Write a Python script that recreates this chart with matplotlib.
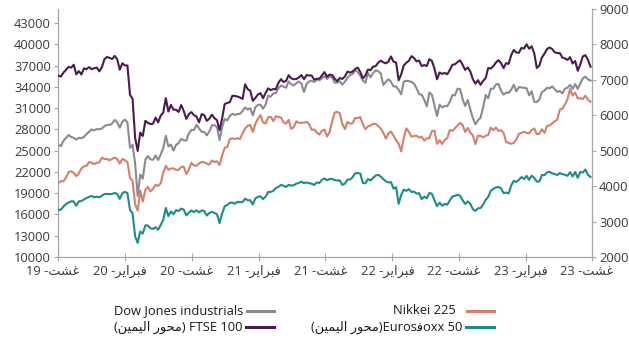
import matplotlib
matplotlib.use("Agg")
import matplotlib.pyplot as plt
import matplotlib.transforms as mtransforms
from matplotlib.lines import Line2D
import pandas as pd

plt.rcParams['font.family'] = ['Open Sans', 'DejaVu Sans']

# ---------------- data (weekly) ----------------
dates = pd.date_range('2019-08-16', '2023-08-11', freq='W-FRI')

dow = [
    25886, 25629, 26403, 26797, 27220, 26935, 26820, 26573, 26817, 26770, 26958, 27347, 27681, 28005, 27876, 28051, 28015, 28135, 28455, 28645,
    28635, 28824, 29348, 28990, 28256, 29102, 29398, 28992, 25409, 25865, 23186, 18600, 21637, 21053, 23719, 24242, 23775, 23724, 24331, 23685,
    24465, 25383, 27111, 25605, 25871, 25016, 25827, 26075, 26672, 26470, 26428, 27433, 27931, 27930, 28654, 28133, 27666, 27657, 27174, 27683,
    28587, 28606, 28336, 26502, 28323, 29480, 29263, 29910, 30218, 30046, 30179, 30200,
    30606, 31098, 30814, 30997, 29983, 31148, 31458, 31494, 30932, 31496, 32779, 32628, 33072, 33153, 33801, 34200, 34043, 33875, 34778, 34382,
    34208, 34529, 34756, 34480, 33290, 34434, 34786, 34870, 34688, 35062, 34935, 35209, 35515, 35120, 35455, 35369, 34608, 34585, 34798, 34326,
    34746, 35295, 35677, 35820, 36328, 36100, 35602, 34899, 34580, 35971, 35365, 35951, 36338,
    36231, 35912, 34265, 34725, 35089, 34738, 34079, 34058, 33615, 32944, 34755, 34861, 34818, 34721, 34451, 33811, 32977, 32899, 32197, 31262,
    33213, 32900, 31393, 29888, 31500, 31097, 31338, 31289, 31899, 32845, 32803, 33761, 33707, 32283, 31318, 32151, 30822, 29590, 28725, 29297,
    29635, 31083, 32862, 32403, 33748, 33746, 34347, 34430, 33477, 32920, 33204, 33147,
    33631, 34303, 33375, 33978, 33926, 33869, 33827, 32817, 33391, 31910, 31862, 32238, 33274, 33485, 33886, 33809, 34098, 33674, 33300, 33427,
    33093, 33762, 33877, 34299, 33727, 34408, 33734, 34509, 35228, 35459, 35066, 34900,
]

nikkei = [
    20419, 20711, 20704, 21199, 21988, 22079, 21879, 21410, 21799, 22492, 22800, 22851, 23392, 23303, 23113, 23294, 23354, 24023, 23816, 23837,
    23657, 23850, 24041, 23827, 23205, 23827, 23688, 23387, 21143, 20750, 17431, 16553, 19389, 17820, 19498, 19897, 19262, 19619, 20179, 20037,
    20388, 21878, 22864, 22305, 22479, 22512, 22306, 22290, 22696, 22751, 21710, 22329, 23289, 22920, 22882, 23205, 23406, 23360, 23204, 23029,
    23620, 23410, 23516, 22977, 24325, 25385, 25527, 26644, 26751, 26652, 26763, 26656,
    27444, 28139, 28519, 28631, 27663, 28779, 29520, 30018, 28966, 28864, 29717, 29792, 29176, 29854, 29768, 29683, 29020, 28813, 29357, 28084,
    28317, 29149, 28941, 28948, 28964, 29066, 28783, 27940, 28003, 27548, 27283, 27820, 27977, 27013, 27641, 29128, 30382, 30500, 30249, 28771,
    28049, 29069, 28805, 28893, 29612, 29610, 29746, 28752, 28030, 28437, 28546, 28782, 28792,
    28479, 28124, 27522, 26717, 27440, 27696, 27122, 26476, 25985, 24900, 26827, 28150, 27666, 26986, 27093, 27105, 26848, 27003, 26427, 26739,
    26782, 27762, 27824, 25963, 26491, 25936, 26517, 26788, 27915, 27802, 28176, 28547, 28930, 28641, 27650, 28214, 27568, 27153, 25937, 27116,
    27090, 26891, 27105, 27199, 28264, 27900, 28283, 27777, 27901, 27527, 26235, 26095,
    25974, 26120, 26554, 27383, 27509, 27671, 27513, 27454, 27927, 28144, 27334, 27385, 28041, 27518, 28493, 28564, 28856, 29158, 29388, 30808,
    30916, 31524, 32265, 33706, 32781, 33189, 32388, 32391, 32304, 32759, 32193, 31900,
]

ftse = [
    7117, 7095, 7207, 7282, 7367, 7345, 7426, 7155, 7247, 7151, 7324, 7302, 7359, 7303, 7327, 7347, 7240, 7353, 7582, 7645,
    7622, 7588, 7675, 7586, 7286, 7467, 7409, 7404, 6581, 6463, 5366, 4994, 5510, 5416, 5843, 5787, 5752, 5763, 5936, 5800,
    5993, 6077, 6484, 6105, 6293, 6159, 6157, 6095, 6290, 6123, 5898, 6032, 6090, 6001, 5964, 5799, 6032, 6007, 5843, 5902,
    6017, 5920, 5860, 5577, 5910, 6316, 6351, 6367, 6550, 6547, 6529, 6502,
    6461, 6873, 6735, 6695, 6407, 6489, 6589, 6624, 6483, 6631, 6761, 6709, 6741, 6737, 6916, 7020, 6938, 6970, 7130, 7044,
    7018, 7023, 7069, 7134, 7018, 7136, 7123, 7122, 7008, 7028, 7032, 7123, 7219, 7088, 7148, 7138, 7029, 6964, 7051, 7027,
    7096, 7234, 7205, 7238, 7304, 7348, 7224, 7044, 7122, 7292, 7270, 7373, 7385,
    7485, 7543, 7494, 7466, 7516, 7661, 7513, 7489, 6987, 7156, 7405, 7483, 7538, 7670, 7616, 7522, 7545, 7388, 7418, 7390,
    7585, 7533, 7318, 7016, 7209, 7169, 7196, 7159, 7277, 7423, 7440, 7501, 7551, 7427, 7281, 7351, 7237, 7019, 6894, 6991,
    6858, 6970, 7048, 7335, 7318, 7386, 7487, 7557, 7477, 7332, 7473, 7452,
    7700, 7844, 7771, 7765, 7902, 7882, 8004, 7879, 7947, 7748, 7335, 7405, 7632, 7742, 7871, 7914, 7870, 7778, 7755, 7756,
    7627, 7607, 7562, 7643, 7462, 7532, 7257, 7434, 7664, 7694, 7564, 7370,
]

eurostoxx = [
    3334, 3334, 3427, 3495, 3538, 3571, 3569, 3447, 3571, 3579, 3624, 3660, 3699, 3722, 3685, 3704, 3684, 3731, 3776, 3782,
    3774, 3781, 3808, 3779, 3641, 3798, 3840, 3800, 3329, 3232, 2586, 2400, 2716, 2663, 2893, 2888, 2809, 2794, 2839, 2770,
    2905, 3050, 3384, 3153, 3287, 3206, 3320, 3300, 3366, 3338, 3175, 3254, 3315, 3267, 3316, 3260, 3315, 3299, 3169, 3244,
    3275, 3245, 3204, 2958, 3225, 3432, 3467, 3527, 3537, 3503, 3558, 3543,
    3553, 3645, 3600, 3602, 3481, 3655, 3697, 3713, 3636, 3706, 3836, 3837, 3867, 3946, 3979, 4032, 4014, 3975, 4035, 4017,
    4026, 4071, 4089, 4127, 4083, 4104, 4084, 4068, 4035, 4104, 4089, 4176, 4219, 4166, 4204, 4201, 4170, 4159, 4160, 4036,
    4073, 4183, 4189, 4251, 4363, 4370, 4356, 4089, 4080, 4200, 4161, 4233, 4298,
    4320, 4272, 4199, 4137, 4104, 4115, 3929, 3971, 3500, 3753, 3903, 3867, 3918, 3835, 3848, 3788, 3803, 3629, 3703, 3658,
    3808, 3783, 3599, 3438, 3533, 3448, 3500, 3477, 3596, 3708, 3725, 3757, 3730, 3603, 3498, 3570, 3500, 3349, 3300, 3375,
    3381, 3476, 3614, 3693, 3867, 3924, 3962, 3977, 3942, 3804, 3818, 3794,
    4018, 4151, 4119, 4178, 4257, 4199, 4290, 4179, 4294, 4229, 4130, 4131, 4315, 4309, 4391, 4408, 4359, 4340, 4316, 4371,
    4336, 4323, 4290, 4395, 4271, 4400, 4235, 4400, 4383, 4470, 4315, 4260,
]

# Arabic text in visual (left-to-right) order with presentation forms
AUG = "\uFE96\uFEB8\uFECF"                                   # غشت
FEB = "\uFEAE\uFEF3\uFE8D\uFEAE\uFE92\uFED3"                 # فبراير
RIGHT_AX = "(\uFEE6\uFEF4\uFEE4\uFEF4\uFEDF\uFE8D \uFEAD\uFEEE\uFEA4\uFEE3)"   # (محور اليمين)

tick_dates = pd.to_datetime(['2019-08-15', '2020-02-15', '2020-08-15', '2021-02-15', '2021-08-15',
                             '2022-02-15', '2022-08-15', '2023-02-15', '2023-08-15'])
tick_labels = [f"19 -{AUG}", f"20 -{FEB}", f"20 -{AUG}", f"21 -{FEB}", f"21 -{AUG}",
               f"22 -{FEB}", f"22 -{AUG}", f"23 -{FEB}", f"23 -{AUG}"]

left_ticks = list(range(10000, 43001, 3000))
right_ticks = list(range(2000, 9001, 1000))

names = ["Dow Jones industrials", f"{RIGHT_AX} FTSE 100", "Nikkei 225", f"{RIGHT_AX}Euros\uFED3oxx 50"]

# ---------------- styling ----------------
GRAY = "#8b8a93"
PURPLE = "#4b1a4f"
ORANGE = "#d4806b"
TEAL = "#1b8c8a"
SPINE = "#a6a6ad"
TXT = "#3a3a3a"
FS = 9.3

W, H = 629, 339
fig = plt.figure(figsize=(W / 100, H / 100), dpi=100)
ax = fig.add_axes([58 / W, 1 - 257 / H, (592 - 58) / W, (257 - 9) / H])
ax2 = ax.twinx()

ax.plot(dates, dow, color=GRAY, lw=1.5, solid_joinstyle='round')
ax.plot(dates, nikkei, color=ORANGE, lw=1.5, solid_joinstyle='round')
ax2.plot(dates, ftse, color=PURPLE, lw=1.5, solid_joinstyle='round')
ax2.plot(dates, eurostoxx, color=TEAL, lw=1.5, solid_joinstyle='round')

ax.set_xlim(tick_dates[0], tick_dates[-1])
ax.set_ylim(10000, 45000)
ax2.set_ylim(2000, 9000)

ax.set_yticks(left_ticks)
ax.set_yticklabels([str(v) for v in left_ticks])
ax2.set_yticks(right_ticks)
ax2.set_yticklabels([str(v) for v in right_ticks])
ax.set_xticks(tick_dates)
ax.set_xticklabels(tick_labels)

for a in (ax, ax2):
    a.spines['top'].set_visible(False)
    for s in a.spines.values():
        s.set_color(SPINE)
        s.set_linewidth(0.9)
ax.spines['right'].set_visible(False)
ax2.spines['left'].set_visible(False)
ax2.spines['bottom'].set_visible(False)

ax.tick_params(axis='y', direction='out', length=3, width=0.8, color=SPINE, labelsize=FS, labelcolor=TXT, pad=2)
ax2.tick_params(axis='y', direction='out', length=3, width=0.8, color=SPINE, labelsize=FS, labelcolor=TXT, pad=2)
ax.tick_params(axis='x', direction='inout', length=6, width=0.8, color=SPINE, labelsize=FS, labelcolor=TXT, pad=3)

offset = mtransforms.ScaledTranslation(-5 / 100, 0, fig.dpi_scale_trans)
for lab in ax.get_xticklabels():
    lab.set_transform(lab.get_transform() + offset)

# ---------------- legend (text left of key, right-to-left layout) ----------------
def key(x_text_end, x0, x1, y, color, label):
    yf = 1 - y / H
    fig.text(x_text_end / W, yf, label, ha='right', va='center', fontsize=FS, color="#1a1a1a")
    fig.add_artist(Line2D([x0 / W, x1 / W], [yf, yf], transform=fig.transFigure, color=color, lw=2.2))

key(243, 247, 274, 311, GRAY, names[0])
key(242, 246, 274, 327, PURPLE, names[1])
key(456, 467, 494, 311, ORANGE, names[2])
key(462, 466, 494, 327, TEAL, names[3])

fig.savefig("out.png", dpi=100)
